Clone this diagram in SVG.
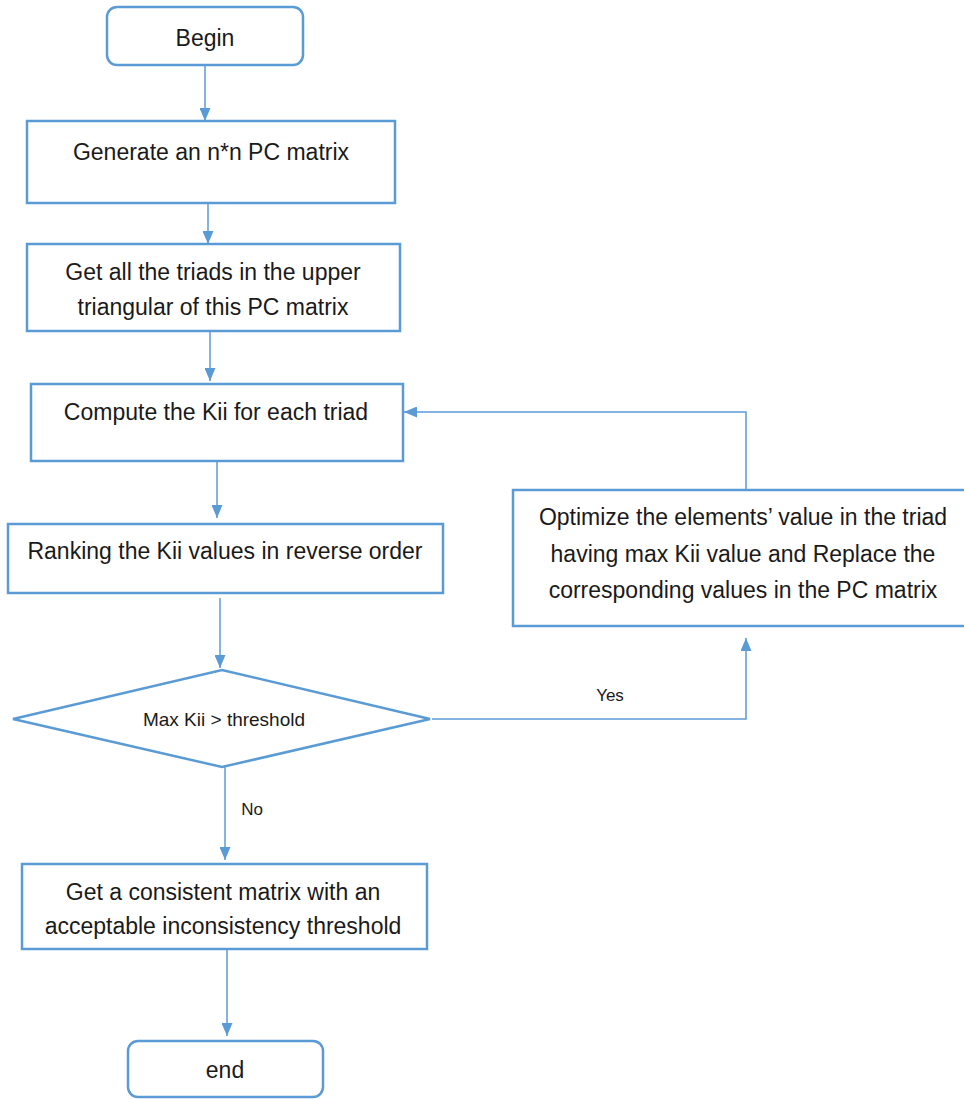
<svg xmlns="http://www.w3.org/2000/svg" width="964" height="1099" viewBox="0 0 964 1099">
<defs>
<style>
.box{fill:#ffffff;stroke:#5b9bd5;stroke-width:2.5}
.conn{fill:none;stroke:#5b9bd5;stroke-width:1.5}
.t{font-family:"Liberation Sans",Arial,sans-serif;font-size:23px;fill:#1a1a1a;text-anchor:middle}
.s{font-family:"Liberation Sans",Arial,sans-serif;font-size:19px;fill:#1a1a1a;text-anchor:middle}
.l{font-family:"Liberation Sans",Arial,sans-serif;font-size:17px;fill:#1a1a1a;text-anchor:middle}
</style>
<marker id="arr" markerUnits="userSpaceOnUse" markerWidth="13" markerHeight="11" refX="13" refY="5.5" orient="auto">
<path d="M0,0 L13,5.5 L0,11 Z" fill="#5b9bd5"/>
</marker>
</defs>
<rect width="964" height="1099" fill="#ffffff"/>
<g id="connectors">
<line class="conn" x1="205" y1="65" x2="205" y2="121" marker-end="url(#arr)"/>
<line class="conn" x1="208" y1="203" x2="208" y2="244" marker-end="url(#arr)"/>
<line class="conn" x1="210" y1="331" x2="210" y2="381" marker-end="url(#arr)"/>
<line class="conn" x1="217" y1="461" x2="217" y2="518" marker-end="url(#arr)"/>
<line class="conn" x1="220" y1="598" x2="220" y2="668" marker-end="url(#arr)"/>
<line class="conn" x1="225" y1="767" x2="225" y2="860" marker-end="url(#arr)"/>
<line class="conn" x1="227" y1="949" x2="227" y2="1036" marker-end="url(#arr)"/>
<polyline class="conn" points="432,719 746,719 746,638" marker-end="url(#arr)"/>
<polyline class="conn" points="746,490 746,412 404,412" marker-end="url(#arr)"/>
<text class="l" x="610" y="701">Yes</text>
<text class="l" x="252" y="815">No</text>
</g>
<g id="begin">
<rect class="box" x="107" y="7" width="196" height="58" rx="10"/>
<text class="t" x="205" y="46">Begin</text>
</g>
<g id="generate">
<rect class="box" x="27" y="121" width="368" height="82"/>
<text class="t" x="211" y="160">Generate an n*n PC matrix</text>
</g>
<g id="triads">
<rect class="box" x="27" y="244" width="373" height="87"/>
<text class="t" x="213" y="280">Get all the triads in the upper</text>
<text class="t" x="213" y="315">triangular of this PC matrix</text>
</g>
<g id="compute">
<rect class="box" x="31" y="384" width="372" height="77"/>
<text class="t" x="216" y="420">Compute the Kii for each triad</text>
</g>
<g id="ranking">
<rect class="box" x="8" y="524" width="435" height="69"/>
<text class="t" x="225" y="559">Ranking the Kii values in reverse order</text>
</g>
<g id="decision">
<polygon class="box" points="13,719 222,670 430,719 222,767"/>
<text class="s" x="224" y="726">Max Kii &gt; threshold</text>
</g>
<g id="optimize">
<rect class="box" x="513" y="490" width="460" height="136"/>
<text class="t" x="743" y="525">Optimize the elements’ value in the triad</text>
<text class="t" x="743" y="562">having max Kii value and Replace the</text>
<text class="t" x="743" y="598">corresponding values in the PC matrix</text>
</g>
<g id="consistent">
<rect class="box" x="22" y="864" width="405" height="85"/>
<text class="t" x="223" y="900">Get a consistent matrix with an</text>
<text class="t" x="223" y="934">acceptable inconsistency threshold</text>
</g>
<g id="end">
<rect class="box" x="128" y="1041" width="195" height="56" rx="10"/>
<text class="t" x="225" y="1078">end</text>
</g>
</svg>
